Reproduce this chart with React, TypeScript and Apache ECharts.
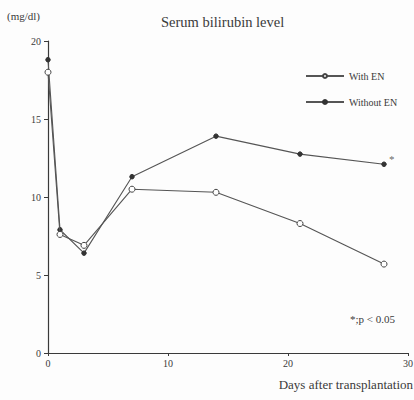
import React, { useEffect, useRef } from "react";
import * as echarts from "echarts";

// Days after transplantation at which bilirubin was measured
const days = [0, 1, 3, 7, 14, 21, 28];
// Serum bilirubin (mg/dl)
const withEN = [18.0, 7.6, 6.9, 10.5, 10.3, 8.3, 5.7];
const withoutEN = [18.8, 7.9, 6.4, 11.3, 13.9, 12.75, 12.1];
// Significance marker placed beside the last "Without EN" point
const significantDay = [28];
const significantValue = [12.1];
const yTicks = [0, 5, 10, 15, 20];
const xTicks = [0, 10, 20, 30];

const FONT = "'Liberation Serif', 'DejaVu Serif', serif";
const INK = "#3a3a3a";

export default function App() {
  const ref = useRef<HTMLDivElement>(null);

  useEffect(() => {
    if (!ref.current) return;
    document.body.style.margin = "0";
    const chart = echarts.init(ref.current, undefined, { renderer: "svg" });

    const pairs = (xs: number[], ys: number[]) => xs.map((d, i) => [d, ys[i]]);

    chart.setOption({
      animation: false,
      backgroundColor: "#fdfdfd",
      grid: { left: 48, right: 6, top: 41, bottom: 47, outerBoundsMode: "none", containLabel: false },
      title: {
        text: "Serum bilirubin level",
        left: 156,
        top: 9,
        textStyle: { fontFamily: FONT, fontSize: 14.5, fontWeight: "normal", color: INK },
      },
      legend: {
        orient: "vertical",
        left: 300,
        top: 66,
        itemWidth: 38,
        itemHeight: 5,
        itemGap: 16,
        textStyle: { fontFamily: FONT, fontSize: 10, color: INK },
        data: ["With EN", "Without EN"],
      },
      xAxis: {
        type: "value",
        min: xTicks[0],
        max: xTicks[xTicks.length - 1],
        interval: 10,
        axisLine: { lineStyle: { color: INK, width: 1.2 } },
        axisTick: { show: true, length: 3, lineStyle: { color: INK } },
        axisLabel: { fontFamily: FONT, fontSize: 10, color: INK, margin: 5, showMaxLabel: true },
        splitLine: { show: false },
        name: "Days after transplantation",
        nameLocation: "end",
        nameGap: 0,
        nameTextStyle: {
          fontFamily: FONT,
          fontSize: 13,
          color: INK,
          align: "right",
          verticalAlign: "top",
          padding: [25, -5, 0, 0],
        },
      },
      yAxis: {
        type: "value",
        min: yTicks[0],
        max: yTicks[yTicks.length - 1],
        interval: 5,
        axisLine: { show: true, lineStyle: { color: INK, width: 1.2 } },
        axisTick: { show: true, length: 4, lineStyle: { color: INK } },
        axisLabel: { fontFamily: FONT, fontSize: 10, color: INK, margin: 7 },
        splitLine: { show: false },
      },
      series: [
        {
          name: "With EN",
          type: "line",
          data: pairs(days, withEN),
          symbol: "circle",
          symbolSize: 6,
          lineStyle: { color: "#555", width: 1.1 },
          itemStyle: { color: "#ffffff", borderColor: "#444", borderWidth: 1 },
          z: 3,
        },
        {
          name: "Without EN",
          type: "line",
          data: pairs(days, withoutEN),
          symbol: "circle",
          symbolSize: 4.5,
          lineStyle: { color: "#555", width: 1.1 },
          itemStyle: { color: "#333", borderColor: "#333", borderWidth: 1 },
          z: 2,
        },
        {
          name: "significance",
          type: "scatter",
          data: pairs(significantDay, significantValue),
          symbolSize: 0,
          silent: true,
          itemStyle: { color: INK },
          label: {
            show: true,
            formatter: "*",
            position: [5, -11],
            color: INK,
            fontSize: 11,
            fontFamily: FONT,
          },
        },
      ],
      graphic: [
        {
          type: "text",
          left: 7,
          top: 10,
          style: { text: "(mg/dl)", fontFamily: FONT, fontSize: 11, fill: INK },
        },
        {
          type: "text",
          left: 350,
          top: 313,
          style: { text: "*;p < 0.05", fontFamily: FONT, fontSize: 11, fill: INK },
        },
      ],
    });

    return () => chart.dispose();
  }, []);

  return <div ref={ref} style={{ width: 414, height: 400 }} />;
}
